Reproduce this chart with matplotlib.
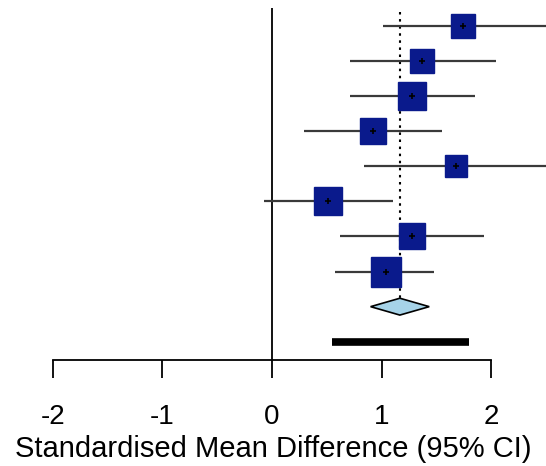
import numpy as np
import matplotlib
matplotlib.use("Agg")
import matplotlib.pyplot as plt

plt.rcParams['font.family'] = ['Liberation Sans', 'DejaVu Sans']

# per-study standardised mean differences with 95% CI
smd = [1.74, 1.37, 1.28, 0.92, 1.68, 0.51, 1.28, 1.04]
ci_low = [1.01, 0.71, 0.71, 0.29, 0.84, -0.07, 0.62, 0.58]
ci_high = [2.70, 2.04, 1.85, 1.55, 2.60, 1.10, 1.93, 1.48]
box_size = [22, 23, 26, 25, 20, 26, 24, 29]   # relative study weight (box side)

# pooled estimate and prediction interval
pooled = 1.167
pooled_low = 0.90
pooled_high = 1.435
pred_low = 0.55
pred_high = 1.80

xticks = [-2, -1, 0, 1, 2]

n = len(smd)
rows = np.arange(n)
row_pooled = n
row_pred = n + 1

fig = plt.figure(figsize=(5.46, 4.66), dpi=100)
ax = fig.add_axes([0, 0.2275, 1, 0.7725])
ax.set_xlim(-2.48, 2.5)
ax.set_ylim(9.52, -0.74)

# line of no effect and pooled estimate reference
ax.vlines(0, -0.51, 9.52, color='black', lw=1.3, zorder=1)
ax.vlines(pooled, -0.4, row_pooled - 0.24, color='black', lw=1.5,
          linestyles=(0, (1.2, 2.2)), zorder=1)

# study confidence intervals and weighted boxes
ax.hlines(rows, ci_low, ci_high, color='#3a3a3a', lw=1.6, zorder=2)
for r, m, s in zip(rows, smd, box_size):
    ax.plot(m, r, marker='s', ms=s / 1.3, color='#0a1a8c', mec='#0a1a8c',
            zorder=3)
    ax.plot(m, r, marker='+', ms=5, mew=1.2, color='black', zorder=4)

# pooled diamond
h = 0.24
ax.fill([pooled_low, pooled, pooled_high, pooled],
        [row_pooled, row_pooled - h, row_pooled, row_pooled + h],
        facecolor='#a6d3e8', edgecolor='black', lw=1.2, zorder=3)

# prediction interval bar
ax.hlines(row_pred, pred_low, pred_high, color='black', lw=5.5, zorder=3)

for side in ['left', 'right', 'top']:
    ax.spines[side].set_visible(False)
ax.spines['bottom'].set_bounds(-2, 2)
ax.spines['bottom'].set_linewidth(1.3)
ax.set_yticks([])
ax.set_xticks(xticks)
ax.set_xticklabels([str(t) for t in xticks])
ax.tick_params(axis='x', length=13, width=1.3, pad=19, labelsize=20)
ax.set_xlabel('Standardised Mean Difference (95% CI)', fontsize=21, labelpad=3)

fig.savefig('out.png', dpi=100)
